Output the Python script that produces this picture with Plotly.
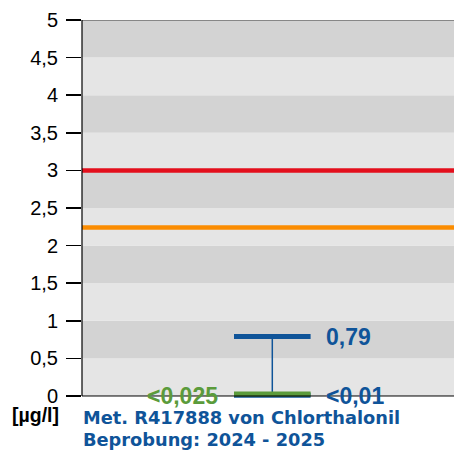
import plotly.graph_objects as go

# ---- data ----
y_ticks = [0, 0.5, 1, 1.5, 2, 2.5, 3, 3.5, 4, 4.5, 5]
y_tick_labels = ["0", "0,5", "1", "1,5", "2", "2,5", "3", "3,5", "4", "4,5", "5"]
limit_red = 3.0
limit_orange = 2.24
value_max = 0.79
value_min = 0.01
value_bg = 0.025
label_max = "0,79"
label_min = "<0,01"
label_bg = "<0,025"
unit_label = "[µg/l]"
title_lines = ["Met. R417888 von Chlorthalonil", "Beprobung: 2024 - 2025"]

W, H = 454, 458
L, T = 82, 20
y_lo, y_hi = -0.04, 5
px_per_unit = 75.2
plot_h = (y_hi - y_lo) * px_per_unit
plot_w = W - L
B = H - T - plot_h
plot_bottom = T + plot_h

BLUE = "#0f5499"
GREEN = "#5b9b3b"
RED = "#e30f1c"
ORANGE = "#fb8c00"
DARK = "#d3d3d3"
LIGHT = "#e5e5e5"
FONT = "Liberation Sans, Arial, sans-serif"
TFONT = "DejaVu Sans, Verdana, sans-serif"

def py(pixel):
    return (plot_bottom - pixel) / plot_h

def px(pixel):
    return (pixel - L) / plot_w

fig = go.Figure()

shapes = []
for i in range(10):
    y0 = i * 0.5
    shapes.append(dict(type="rect", xref="paper", yref="y", x0=0, x1=1, y0=y0, y1=y0 + 0.5,
                       fillcolor=DARK if i % 2 == 1 else LIGHT, line=dict(width=0), layer="below"))
for val, col in [(limit_red, RED), (limit_orange, ORANGE)]:
    shapes.append(dict(type="line", xref="paper", yref="y", x0=0, x1=1, y0=val, y1=val,
                       line=dict(color=col, width=4.5), layer="above"))
shapes.append(dict(type="line", xref="paper", yref="y", x0=0, x1=1, y0=5, y1=5,
                   line=dict(color="#6e6e6e", width=1.5)))
shapes.append(dict(type="line", xref="paper", yref="y", x0=0, x1=1, y0=0, y1=0,
                   line=dict(color="black", width=1)))
shapes.append(dict(type="line", xref="paper", yref="y", x0=0, x1=0, y0=0, y1=5,
                   line=dict(color="black", width=1.2)))

fig.add_trace(go.Scatter(x=[0, 0], y=[value_min, value_max], mode="lines",
                         line=dict(color=BLUE, width=1.5), hoverinfo="skip", showlegend=False))
fig.add_trace(go.Scatter(x=[-0.5, 0.5], y=[value_max, value_max], mode="lines",
                         line=dict(color=BLUE, width=5), hoverinfo="skip", showlegend=False))
fig.add_trace(go.Scatter(x=[-0.5, 0.5], y=[value_min, value_min], mode="lines",
                         line=dict(color=BLUE, width=5), hoverinfo="skip", showlegend=False))
fig.add_trace(go.Scatter(x=[-0.5, 0.5], y=[value_bg, value_bg], mode="lines",
                         line=dict(color=GREEN, width=5), hoverinfo="skip", showlegend=False))

annotations = [
    dict(x=0.5, y=value_max, xref="x", yref="y", text=label_max, showarrow=False,
         xanchor="left", yanchor="middle", xshift=13,
         font=dict(family=FONT, size=23, color=BLUE, weight="bold")),
    dict(x=0.5, y=value_min, xref="x", yref="y", text=label_min, showarrow=False,
         xanchor="left", yanchor="middle", xshift=13, yshift=-1,
         font=dict(family=FONT, size=23, color=BLUE, weight="bold")),
    dict(x=-0.5, y=value_bg, xref="x", yref="y", text=label_bg, showarrow=False,
         xanchor="right", yanchor="middle", xshift=-14, yshift=-2,
         font=dict(family=FONT, size=23, color=GREEN, weight="bold")),
    dict(x=px(10), y=py(415), xref="paper", yref="paper", text=unit_label, showarrow=False,
         xanchor="left", yanchor="middle",
         font=dict(family=FONT, size=19.5, color="black", weight="bold")),
]
for k, line in enumerate(title_lines):
    annotations.append(dict(x=px(81), y=py(418 + 22 * k), xref="paper", yref="paper", text=line,
                            showarrow=False, xanchor="left", yanchor="middle",
                            font=dict(family=TFONT, size=17.8, color=BLUE, weight="bold")))

cx = 272.3
unit_px = 76.6
fig.update_layout(
    width=W, height=H,
    margin=dict(l=L, r=0, t=T, b=B, pad=0),
    paper_bgcolor="white", plot_bgcolor="white",
    shapes=shapes, annotations=annotations,
    xaxis=dict(range=[-(cx - L) / unit_px, (W - cx) / unit_px], showgrid=False, zeroline=False,
               showticklabels=False, ticks="", showline=False, fixedrange=True),
    yaxis=dict(range=[y_lo, y_hi], tickvals=y_ticks, ticktext=y_tick_labels, showgrid=False,
               zeroline=False, showline=False, ticks="outside", ticklen=15, tickwidth=1.5,
               tickcolor="black", ticklabelstandoff=4, fixedrange=True,
               tickfont=dict(family=FONT, size=20, color="black")),
    showlegend=False,
)

fig.write_html("out.html", config={"displayModeBar": False, "staticPlot": True},
               post_script="document.body.style.margin='0';document.body.style.overflow='hidden';")
